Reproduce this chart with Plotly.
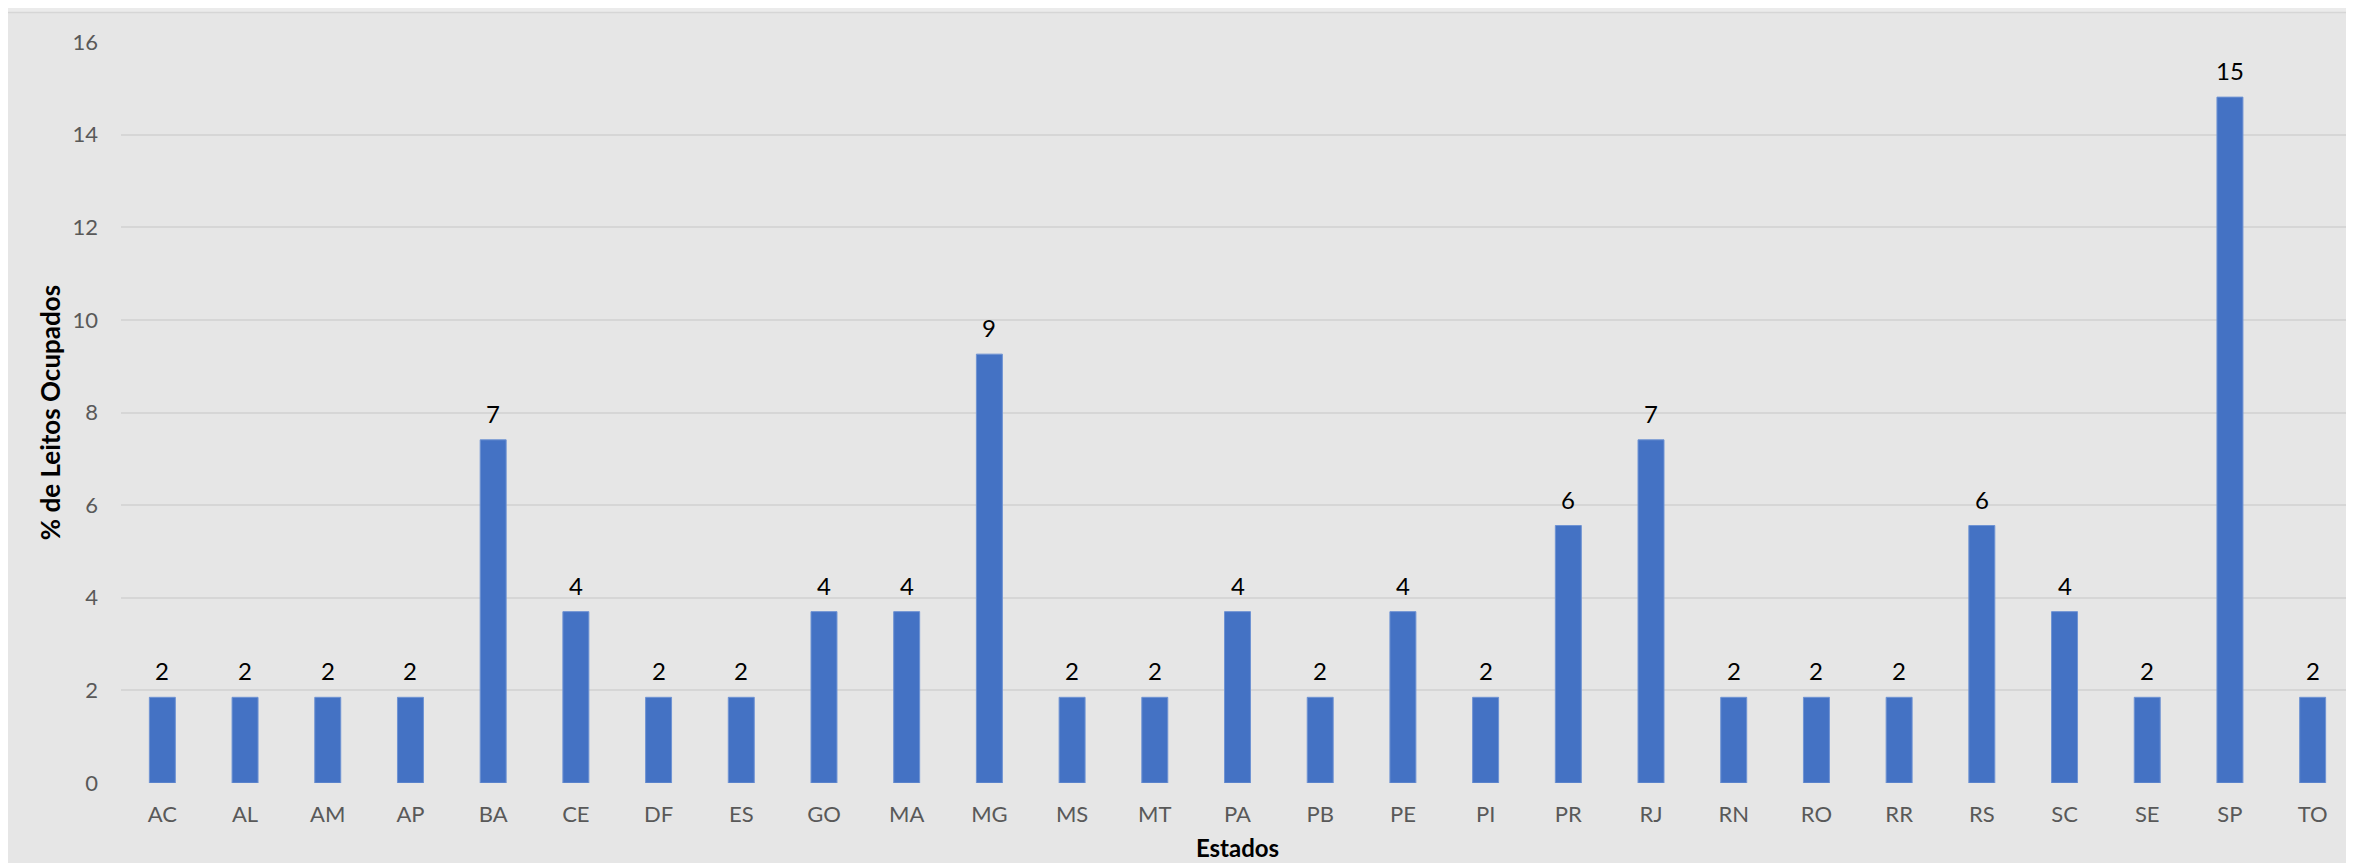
import plotly.graph_objects as go

# Data
estados = ["AC", "AL", "AM", "AP", "BA", "CE", "DF", "ES", "GO", "MA", "MG", "MS", "MT", "PA",
           "PB", "PE", "PI", "PR", "RJ", "RN", "RO", "RR", "RS", "SC", "SE", "SP", "TO"]
leitos_pct = [1.85, 1.85, 1.85, 1.85, 7.41, 3.70, 1.85, 1.85, 3.70, 3.70, 9.26, 1.85, 1.85, 3.70,
              1.85, 3.70, 1.85, 5.56, 7.41, 1.85, 1.85, 1.85, 5.56, 3.70, 1.85, 14.81, 1.85]
y_ticks = [0, 2, 4, 6, 8, 10, 12, 14, 16]

FONT = "Lato"
BAR = "#4472C4"
BG = "#e6e6e6"

fig = go.Figure()
fig.add_trace(go.Bar(
    x=estados, y=leitos_pct,
    marker=dict(color=BAR, line=dict(color="#6f93d3", width=1)),
    hoverinfo="x+y",
))

annotations = []
for e, v in zip(estados, leitos_pct):
    annotations.append(dict(
        x=e, y=v, xref="x", yref="y", text=f"{v:.0f}", showarrow=False,
        yanchor="bottom", yshift=10, font=dict(family=FONT, size=24, color="#000000"),
    ))

fig.update_layout(
    width=2346, height=855,
    margin=dict(l=113, r=0, t=34, b=80),
    paper_bgcolor="#ebebeb",
    plot_bgcolor="rgba(0,0,0,0)",
    bargap=0.686,
    showlegend=False,
    font=dict(family=FONT, size=22, color="#595959"),
    annotations=annotations,
    shapes=[dict(type="rect", xref="paper", yref="paper", layer="below",
                 x0=-119.5 / 2233, x1=1.2, y0=-0.2, y1=1 + 29.5 / 741,
                 fillcolor=BG, line=dict(color="#d6d6d6", width=1.5))],
    xaxis=dict(
        type="category", range=[-0.5, len(estados) - 0.5],
        showgrid=False, showline=False, zeroline=False,
        ticks="", ticklabelstandoff=16,
        tickfont=dict(family=FONT, size=22, color="#595959"),
        title=dict(text="<b>Estados</b>", standoff=14,
                   font=dict(family=FONT, size=24, color="#000000")),
    ),
    yaxis=dict(
        range=[0, 16], tickvals=y_ticks, ticktext=[str(t) for t in y_ticks],
        showgrid=True, gridcolor="#d6d6d6", gridwidth=1.5,
        zeroline=False, showline=False, ticks="", ticklabelstandoff=22,
        tickfont=dict(family=FONT, size=22, color="#595959"),
        title=dict(text="<b>% de Leitos Ocupados</b>", standoff=4,
                   font=dict(family=FONT, size=26, color="#000000")),
    ),
)

fig.write_html("out.html")
